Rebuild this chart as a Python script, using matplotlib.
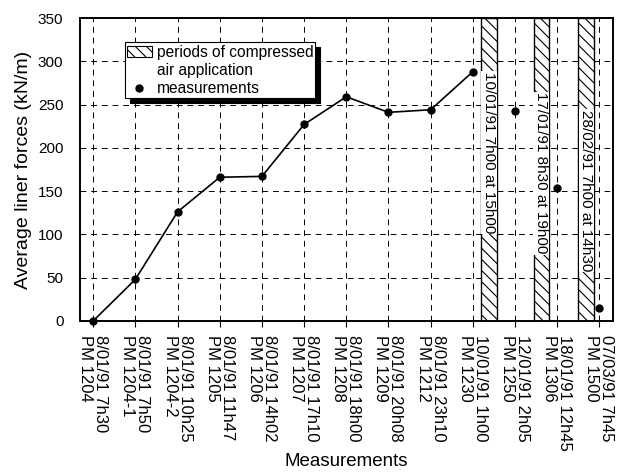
import matplotlib.pyplot as plt
from matplotlib.patches import Patch
from matplotlib.lines import Line2D

plt.rcParams['font.family'] = ['Liberation Sans', 'DejaVu Sans']

# measurement labels (date / time, then PM number)
labels = ["8/01/91 7h30\nPM 1204", "8/01/91 7h50\nPM 1204-1", "8/01/91 10h25\nPM 1204-2",
          "8/01/91 11h47\nPM 1205", "8/01/91 14h02\nPM 1206", "8/01/91 17h10\nPM 1207",
          "8/01/91 18h00\nPM 1208", "8/01/91 20h08\nPM 1209", "8/01/91 23h10\nPM 1212",
          "10/01/91 1h00\nPM 1230", "12/01/91 2h05\nPM 1250", "18/01/91 12h45\nPM 1306",
          "07/03/91 7h45\nPM 1500"]
forces = [0, 48, 126, 166, 167, 227, 259, 241, 244, 288, 243, 154, 15]
n_line = 10  # first points joined by a line

# periods of compressed air application (start, end in category units)
periods = [(9.19, 9.57), (10.44, 10.8), (11.5, 11.88)]
period_text = ["10/01/91 7h00 at 15h00", "17/01/91 8h30 at 19h00", "28/02/91 7h00 at 14h30"]
text_top = [288, 264, 244]

fig = plt.figure(figsize=(6.21, 4.74), dpi=100)
ax = fig.add_axes([0.129, 0.323, 0.858, 0.639])

x = list(range(len(forces)))
ax.plot(x[:n_line], forces[:n_line], color='black', lw=1.2, zorder=3)
ax.plot(x, forces, 'o', color='black', ms=5, zorder=4, clip_on=False)

plt.rcParams['hatch.linewidth'] = 0.8
for (a, b), t, yt in zip(periods, period_text, text_top):
    ax.axvspan(a, b, facecolor='white', edgecolor='black', hatch='\\\\\\', lw=1, zorder=2)
    ax.text((a + b) / 2, yt, t, rotation=-90, ha='center', va='top', fontsize=11,
            bbox=dict(facecolor='white', edgecolor='none', pad=0.5), zorder=5)

ax.set_xlim(-0.31, 12.32)
ax.set_ylim(0, 350)
ax.set_xticks(x)
ax.set_xticklabels(labels, rotation=-90, fontsize=12, linespacing=1.0,
                   multialignment='left')
ax.set_yticks(range(0, 351, 50))
ax.tick_params(axis='y', length=0, pad=12, labelsize=11)
ax.tick_params(axis='x', length=4, direction='out', pad=6)
ax.grid(True, color='black', linestyle=(0, (6, 5)), lw=0.7)
for s in ax.spines.values():
    s.set_linewidth(1.4)

ax.set_ylabel("Average liner forces (kN/m)", fontsize=14)
ax.set_xlabel("Measurements", fontsize=13.5)
ax.xaxis.set_label_coords(0.5, -0.436)

# legend: hatch entry on first line, second line of its text with a blank handle
handles = [Patch(facecolor='white', edgecolor='black', hatch='\\\\\\', lw=0.8),
           Patch(facecolor='none', edgecolor='none'),
           Line2D([], [], marker='o', color='black', ls='none', ms=5)]
leg = ax.legend(handles, ["periods of compressed", "air application", "measurements"],
                loc='upper left', bbox_to_anchor=(0.069, 0.945), fontsize=11.2,
                frameon=True, fancybox=False, framealpha=1, edgecolor='black',
                shadow={'color': 'black', 'alpha': 1, 'ox': 3.5, 'oy': -3.5},
                handlelength=1.6, handletextpad=0.3, borderpad=0.15, labelspacing=0.2)
leg.get_frame().set_linewidth(0.8)
leg.set_zorder(6)

fig.savefig("out.png", dpi=100)
